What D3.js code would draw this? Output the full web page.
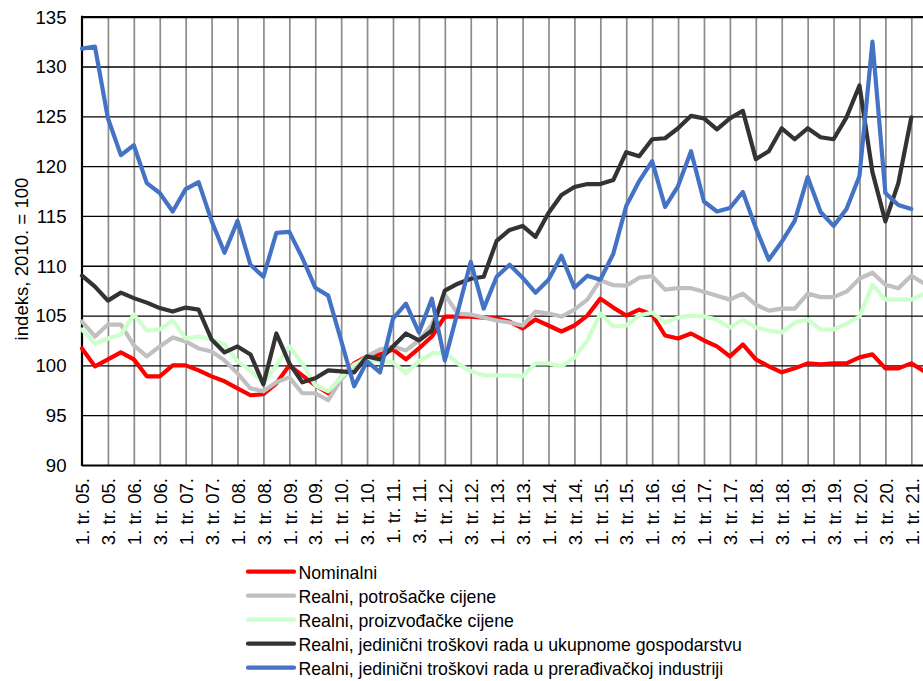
<!DOCTYPE html>
<html>
<head>
<meta charset="utf-8">
<script src="https://cdn.jsdelivr.net/npm/d3@7/dist/d3.min.js"></script>
<style>
  html, body { margin: 0; padding: 0; background: #fff; }
  svg { display: block; font-family: "Liberation Sans", Arial, sans-serif; }
</style>
</head>
<body>
<svg id="chart" width="923" height="681"></svg>
<script>
// Quarterly categories, 1. tr. 2005. – 2. tr. 2021.
const years = ["05","06","07","08","09","10","11","12","13","14","15","16","17","18","19","20","21"];
const quarters = ["1.","2.","3.","4."];
const categories = years.flatMap(y => quarters.map(q => `${q} tr. ${y}.`)).slice(0, 66);

const yTicks = [90, 95, 100, 105, 110, 115, 120, 125, 130, 135];

const nominalni = [
  101.7, 99.9, 100.6, 101.3, 100.6, 98.9, 98.9, 100.0, 100.0, 99.5,
  98.9, 98.4, 97.7, 97.0, 97.1, 98.2, 100.0, 99.0, 98.0, 97.2,
  98.8, 100.2, 100.9, 101.1, 101.6, 100.6, 101.7, 102.9, 104.9, 104.9,
  104.9, 104.8, 104.7, 104.4, 103.7, 104.6, 104.0, 103.4, 104.0, 105.0,
  106.7, 105.8, 105.0, 105.6, 105.1, 103.0, 102.7, 103.2, 102.5, 101.9,
  100.9, 102.1, 100.6, 99.9, 99.3, 99.7, 100.2, 100.1, 100.2, 100.2,
  100.8, 101.1, 99.7, 99.7, 100.2, 99.4
];

const potrosackeCijene = [
  104.4, 102.9, 104.1, 104.1, 102.0, 100.9, 101.9, 102.8, 102.4, 101.7,
  101.4, 100.5, 99.2, 97.7, 97.4, 98.3, 98.8, 97.2, 97.2, 96.5,
  98.6, 100.0, 100.9, 101.6, 101.9, 101.5, 102.5, 104.1, 107.1, 105.2,
  105.1, 104.8, 104.5, 104.3, 104.0, 105.4, 105.2, 104.9, 105.6, 106.6,
  108.55, 108.05, 108.0, 108.8, 108.95, 107.6, 107.75, 107.75, 107.4, 107.0,
  106.6, 107.2, 106.1, 105.5, 105.7, 105.7, 107.2, 106.85, 106.85, 107.4,
  108.7, 109.3, 108.1, 107.75, 109.0, 108.2
];

const proizvodjackeCijene = [
  103.6, 102.2, 102.7, 103.1, 105.1, 103.5, 103.6, 104.5, 102.7, 102.9,
  102.6, 102.1, 100.4, 99.5, 98.2, 100.0, 101.9, 100.2, 98.0, 97.4,
  98.8, 100.1, 100.6, 100.4, 100.3, 99.2, 100.4, 101.2, 101.3, 100.2,
  99.4, 99.0, 99.0, 99.0, 98.9, 100.2, 100.2, 99.9, 100.8, 102.5,
  105.2, 103.9, 104.0, 105.0, 105.3, 104.3, 104.8, 105.0, 104.9, 104.6,
  103.8, 104.6, 103.8, 103.5, 103.3, 104.3, 104.6, 103.6, 103.6, 104.2,
  104.9, 108.1, 106.6, 106.6, 106.6, 107.2
];

const jtrUkupno = [
  109.0, 107.9, 106.5, 107.3, 106.75, 106.3, 105.75, 105.4, 105.8, 105.6,
  102.6, 101.3, 101.9, 101.1, 98.1, 103.2, 100.2, 98.3, 98.7, 99.5,
  99.4, 99.3, 100.9, 100.6, 101.9, 103.2, 102.5, 103.5, 107.5, 108.2,
  108.7, 108.9, 112.5, 113.6, 114.0, 112.9, 115.3, 117.1, 117.9, 118.2,
  118.2, 118.6, 121.4, 121.0, 122.7, 122.8, 123.8, 125.05, 124.8, 123.7,
  124.8, 125.55, 120.7, 121.5, 123.8, 122.7, 123.8, 122.9, 122.7, 124.9,
  128.1, 119.4, 114.45, 118.3, 124.9, null
];

const jtrPreradivacka = [
  131.8, 132.0, 124.8, 121.1, 122.1, 118.3, 117.3, 115.45, 117.7, 118.4,
  114.5, 111.3, 114.5, 110.1, 108.9, 113.3, 113.4, 110.8, 107.8, 107.0,
  102.5, 97.9, 100.4, 99.3, 104.7, 106.2, 103.3, 106.7, 100.5, 105.4,
  110.4, 105.7, 108.9, 110.1, 108.8, 107.3, 108.6, 111.0, 107.8, 109.0,
  108.6, 111.2, 116.0, 118.5, 120.5, 115.9, 118.0, 121.5, 116.45, 115.45,
  115.8, 117.4, 113.8, 110.6, 112.4, 114.5, 118.9, 115.4, 114.0, 115.7,
  119.0, 132.5, 117.3, 116.1, 115.7, null
];

const seriesNames = [
  "Nominalni",
  "Realni, potrošačke cijene",
  "Realni, proizvođačke cijene",
  "Realni, jedinični troškovi rada u ukupnome gospodarstvu",
  "Realni, jedinični troškovi rada u prerađivačkoj industriji"
];
const seriesValues = [nominalni, potrosackeCijene, proizvodjackeCijene, jtrUkupno, jtrPreradivacka];
const seriesColors = ["#ff0000", "#c0c0c0", "#ccffcc", "#333333", "#4472c4"];

const svg = d3.select("#chart");
const plotLeft = 82, plotTop = 16.7, plotBottom = 465;
const step = 12.958;
const plotRight = plotLeft + step * (categories.length - 1);

const x = d3.scalePoint().domain(categories).range([plotLeft, plotRight]);
const y = d3.scaleLinear().domain([90, 135]).range([plotBottom, plotTop]);

const fontAxis = "18.6px";

// vertical gridlines every second quarter
const labelCats = categories.filter((c, i) => i % 2 === 0);
svg.append("g")
  .attr("transform", `translate(0,${plotBottom})`)
  .call(d3.axisBottom(x).tickValues(labelCats.slice(1)).tickSize(-(plotBottom - plotTop)).tickFormat(""))
  .call(g => g.select(".domain").remove())
  .call(g => g.selectAll(".tick line").attr("stroke", "#8c8c8c").attr("stroke-width", 1.7));

// horizontal gridlines + y labels
svg.append("g")
  .attr("transform", `translate(${plotLeft},0)`)
  .call(d3.axisLeft(y).tickValues(yTicks).tickSize(-(960 - plotLeft)).tickPadding(15.5).tickFormat(d3.format("d")))
  .call(g => g.select(".domain").remove())
  .call(g => g.selectAll(".tick line").attr("stroke", "#000").attr("stroke-width", d => (d === 135 || d === 90) ? 2.2 : 1.3))
  .call(g => g.selectAll(".tick text").attr("fill", "#000").attr("font-size", fontAxis)
    .attr("font-family", "'Liberation Sans', Arial, sans-serif").attr("dy", "0.34em"));

// left axis line
svg.append("line")
  .attr("x1", plotLeft).attr("x2", plotLeft).attr("y1", plotTop - 1).attr("y2", plotBottom + 1)
  .attr("stroke", "#000").attr("stroke-width", 2.2);

// x labels, rotated
svg.append("g")
  .attr("transform", `translate(0,${plotBottom})`)
  .call(d3.axisBottom(x).tickValues(labelCats).tickSize(0).tickPadding(0))
  .call(g => g.select(".domain").remove())
  .call(g => g.selectAll(".tick text")
    .attr("fill", "#000")
    .attr("font-size", fontAxis)
    .attr("font-family", "'Liberation Sans', Arial, sans-serif")
    .attr("text-anchor", "end")
    .attr("transform", "rotate(-90)")
    .attr("x", -13)
    .attr("y", 0)
    .attr("dy", "0.36em"));

// y axis title
svg.append("text")
  .attr("transform", "translate(28.3,259) rotate(-90)")
  .attr("text-anchor", "middle")
  .attr("font-size", fontAxis)
  .attr("fill", "#000")
  .text("indeks, 2010. = 100");

// series lines
const line = d3.line()
  .defined(d => d.v != null)
  .x(d => x(d.c))
  .y(d => y(d.v));

seriesValues.forEach((vals, k) => {
  svg.append("path")
    .datum(vals.map((v, i) => ({ c: categories[i], v })))
    .attr("fill", "none")
    .attr("stroke", seriesColors[k])
    .attr("stroke-width", 4.2)
    .attr("stroke-linejoin", "round")
    .attr("stroke-linecap", "round")
    .attr("d", line);
});

// legend
const legend = svg.append("g");
seriesNames.forEach((name, k) => {
  const cy = 571.7 + 24 * k;
  legend.append("line")
    .attr("x1", 248).attr("x2", 294).attr("y1", cy).attr("y2", cy)
    .attr("stroke", seriesColors[k]).attr("stroke-width", 4.2).attr("stroke-linecap", "round");
  legend.append("text")
    .attr("x", 298.5).attr("y", cy + 7.6)
    .attr("font-size", "17.7px")
    .attr("fill", "#000")
    .text(name);
});
</script>
</body>
</html>
